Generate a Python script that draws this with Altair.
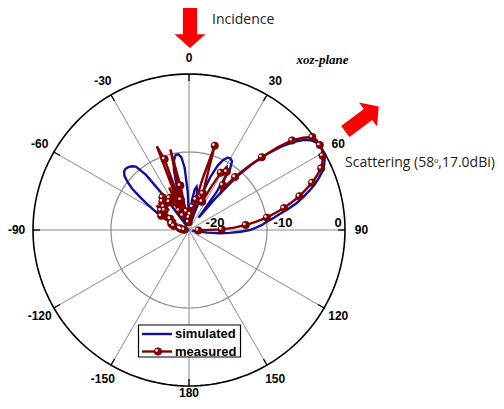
import altair as alt
import pandas as pd
import numpy as np

# ---------------- data (gain in dB, normalised; angle in degrees, clockwise from +z) -------------
MEAS_ANGLE = list(range(-89, 96, 2))
MEAS_DB = [
    -19.6, -19.4, -19.2, -19.0, -19.2, -18.8, -18.4, -18.0, -18.4, -17.6,
    -17.0, -17.6, -16.6, -16.0, -16.0, -17.2, -18.0, -15.6, -14.8, -16.0,
    -15.2, -15.6, -16.0, -15.0, -16.0, -14.6, -14.2, -15.6, -16.4, -15.2,
    -16.0, -17.2, -14.0, -18.0, -8.5, -10.4, -17.6, -16.0, -9.4, -14.2,
    -18.0, -17.6, -18.4, -19.0, -18.8,
    -18.4, -18.8, -18.0, -17.6, -17.0, -18.0, -16.0, -13.0, -8.7, -13.4,
    -15.0, -16.5, -16.0, -14.0, -11.6, -10.6, -11.1, -12.1, -12.8, -13.4,
    -11.0, -8.8, -6.8, -4.4, -2.5, -1.2, -0.2, 0.0, 0.0, -0.1,
    -0.4, -0.8, -1.3, -2.2, -3.1, -4.2, -5.2, -6.4, -7.5, -8.8,
    -9.9, -11.4, -12.7, -14.2, -15.8, -18.4, -18.8, -19.2,
]
SIM_ANGLE = list(range(-90, 103, 2))
SIM_DB = [
    -20.0, -19.8, -19.4, -19.2, -19.4, -19.8, -19.6, -19.2, -18.8, -18.8,
    -18.4, -17.6, -16.8, -16.0, -15.4, -14.6, -13.6, -12.4, -11.0, -10.0,
    -9.2, -8.8, -8.7, -8.8, -9.0, -9.4, -11.0, -15.0, -18.4, -19.4,
    -19.0, -18.4, -18.2, -18.6, -19.2, -18.8, -17.0, -14.4, -12.0, -10.8,
    -10.2, -10.2, -10.6, -12.0, -15.0, -18.4, -19.0, -17.6, -16.0, -14.8,
    -14.4, -15.0, -17.0, -18.8, -17.6, -15.0, -12.6, -11.0, -10.0, -9.5,
    -9.4, -9.6, -10.6, -14.0, -18.0, -14.4, -10.6, -8.0, -5.8, -4.0,
    -2.4, -1.2, -0.5, -0.1, 0.0, -0.1, -0.3, -0.7, -1.2, -2.0,
    -2.8, -3.8, -4.8, -5.8, -7.0, -8.2, -9.1, -10.0, -10.6, -11.4,
    -12.2, -13.4, -14.8, -16.0, -17.6, -18.8, -19.6,
]
DB_MIN, DB_MAX = -20.0, 0.0
RING_DB = [-10.0, 0.0]
RADIAL_TICKS = [-20, -10, 0]
ANGLE_TICKS = [0, 30, 60, 90, 120, 150, 180, -150, -120, -90, -60, -30]
SERIES = ["simulated", "measured"]

BLUE = "#10109c"
RED = "#850000"
GRAY = "#8a8a8a"

# ---------------- layout: chart 488x393, centre and radius in px --------------
W, H = 488, 393
CX, CY, R = 181.0, 222.0, 156.0
XDOM = [-CX / R, (W - CX) / R]
YDOM = [-(H - CY) / R, CY / R]
xs = alt.Scale(domain=XDOM, nice=False, zero=False)
ys = alt.Scale(domain=YDOM, nice=False, zero=False)
X = alt.X("px:Q", scale=xs, axis=None)
Y = alt.Y("py:Q", scale=ys, axis=None)

RNORM = f"max(0, (datum.db - ({DB_MIN})) / ({DB_MAX - DB_MIN}))"


def polar(ch, r=RNORM):
    return ch.transform_calculate(
        rr=r
    ).transform_calculate(
        px="datum.rr * sin(datum.angle * PI / 180)",
        py="datum.rr * cos(datum.angle * PI / 180)",
    )


# spokes
spokes_df = pd.DataFrame({"angle": list(range(0, 360, 30))})
spokes = alt.Chart(spokes_df).transform_calculate(
    px="0", py="0",
    px2="sin(datum.angle * PI / 180)",
    py2="cos(datum.angle * PI / 180)",
).mark_rule(color=GRAY, strokeWidth=1).encode(
    x=X, y=Y, x2="px2:Q", y2="py2:Q"
)
ticks = alt.Chart(spokes_df).transform_calculate(
    px="0.955 * sin(datum.angle * PI / 180)", py="0.955 * cos(datum.angle * PI / 180)",
    px2="sin(datum.angle * PI / 180)",
    py2="cos(datum.angle * PI / 180)",
).mark_rule(color="black", strokeWidth=1.3).encode(
    x=X, y=Y, x2="px2:Q", y2="py2:Q"
)

ring_ang = np.arange(0, 361, 2)
ring_df = pd.DataFrame({
    "angle": np.concatenate([ring_ang, ring_ang]),
    "db": [RING_DB[0]] * len(ring_ang) + [RING_DB[1]] * len(ring_ang),
    "ring": ["inner"] * len(ring_ang) + ["outer"] * len(ring_ang),
})
inner_ring = polar(alt.Chart(ring_df).transform_filter("datum.ring == 'inner'")).mark_line(
    color=GRAY, strokeWidth=1.2
).encode(x=X, y=Y, order="angle:Q")
outer_ring = polar(alt.Chart(ring_df).transform_filter("datum.ring == 'outer'")).mark_line(
    color="black", strokeWidth=1.6
).encode(x=X, y=Y, order="angle:Q")

sim_df = pd.DataFrame({"angle": SIM_ANGLE, "db": SIM_DB})
meas_df = pd.DataFrame({"angle": MEAS_ANGLE, "db": MEAS_DB, "idx": range(len(MEAS_ANGLE))})

sim_line = polar(alt.Chart(sim_df)).mark_line(color=BLUE, strokeWidth=2.4).encode(
    x=X, y=Y, order="angle:Q")
meas_line = polar(alt.Chart(meas_df)).mark_line(color=RED, strokeWidth=2.4).encode(
    x=X, y=Y, order="angle:Q")

MSIZE = 56
HILITE = "M -0.72 -0.3 A 0.34 0.34 0 1 0 -0.04 -0.3 A 0.34 0.34 0 1 0 -0.72 -0.3 Z"
meas_pts = polar(alt.Chart(meas_df).transform_filter("datum.idx % 2 == 1")).mark_point(
    filled=True, shape="circle", size=MSIZE, color=RED, opacity=1, stroke="#5a0000", strokeWidth=0.6
).encode(x=X, y=Y)
meas_hl = polar(alt.Chart(meas_df).transform_filter("datum.idx % 2 == 1")).mark_point(
    filled=True, shape=HILITE, size=MSIZE, color="white", opacity=0.95
).encode(x=X, y=Y)

# angle labels
lab_df = pd.DataFrame({"angle": ANGLE_TICKS, "label": [str(a) for a in ANGLE_TICKS]})
lab_r = "datum.angle == 180 ? 1.042 : 1.105"
angle_labels = polar(alt.Chart(lab_df), lab_r).mark_text(
    font="Liberation Sans", fontWeight="bold", fontSize=12, color="black",
    align="center", baseline="middle"
).encode(x=X, y=Y, text="label:N")

# radial (dB) labels along the 90 degree spoke
rad_df = pd.DataFrame({"db": RADIAL_TICKS, "label": [str(v) for v in RADIAL_TICKS],
                       "nudge": [26.0, 16.0, -7.0]})
radial_labels = alt.Chart(rad_df).transform_calculate(
    px=f"max(0, (datum.db - ({DB_MIN})) / ({DB_MAX - DB_MIN})) + datum.nudge / {R}",
    py=f"{6.7 / R}",
).mark_text(
    font="Liberation Sans", fontWeight="bold", fontSize=13, color="black",
    align="center", baseline="middle"
).encode(x=X, y=Y, text="label:N")

# legend (drawn by hand, box with white fill)
leg_box = alt.Chart(pd.DataFrame({"a": [0]})).mark_rect(
    fill="white", stroke="black", strokeWidth=1.2
).encode(x=alt.value(130.5), x2=alt.value(232.5), y=alt.value(317), y2=alt.value(349))
leg_sim = alt.Chart(pd.DataFrame({"a": [0]})).mark_rule(color=BLUE, strokeWidth=2.4).encode(
    x=alt.value(134), x2=alt.value(164), y=alt.value(326))
leg_meas = alt.Chart(pd.DataFrame({"a": [0]})).mark_rule(color=RED, strokeWidth=2.4).encode(
    x=alt.value(134), x2=alt.value(164), y=alt.value(343.5))
leg_pt = alt.Chart(pd.DataFrame({"a": [0]})).mark_point(
    filled=True, shape="circle", size=MSIZE, color=RED, opacity=1, stroke="#5a0000", strokeWidth=0.6
).encode(x=alt.value(150), y=alt.value(343.5))
leg_hl = alt.Chart(pd.DataFrame({"a": [0]})).mark_point(
    filled=True, shape=HILITE, size=MSIZE, color="white", opacity=0.95
).encode(x=alt.value(150), y=alt.value(343.5))
leg_text = alt.Chart(pd.DataFrame({"t": SERIES, "yy": [326, 343.5]})).mark_text(
    font="Liberation Sans", fontWeight="bold", fontSize=13, color="black",
    align="left", baseline="middle"
).encode(x=alt.value(167), y=alt.Y("yy:Q", scale=None), text="t:N")

# annotations
ARROW = "M 0 -1 L 0.72 -0.36 L 0.33 -0.36 L 0.33 1 L -0.33 1 L -0.33 -0.36 L -0.72 -0.36 Z"
arrow1 = alt.Chart(pd.DataFrame({"a": [0]})).mark_point(
    filled=True, shape=ARROW, size=1850, angle=180, color="#ff0000", opacity=1
).encode(x=alt.value(182), y=alt.value(18.5))
arrow2 = alt.Chart(pd.DataFrame({"a": [0]})).mark_point(
    filled=True, shape=ARROW, size=1750, angle=53, color="#ff0000", opacity=1
).encode(x=alt.value(354), y=alt.value(111))
ann_df = pd.DataFrame({
    "t": ["Incidence", "Scattering (58ᵒ,17.0dBi)"],
    "xx": [204, 337], "yy": [12, 155],
})
ann_text = alt.Chart(ann_df).mark_text(
    font="Open Sans", fontSize=14, color="#222222", align="left", baseline="middle"
).encode(x=alt.X("xx:Q", scale=None), y=alt.Y("yy:Q", scale=None), text="t:N")
plane_text = alt.Chart(pd.DataFrame({"t": ["xoz-plane"]})).mark_text(
    font="Liberation Serif", fontWeight="bold", fontStyle="italic", fontSize=13,
    color="black", align="left", baseline="middle"
).encode(x=alt.value(288.5), y=alt.value(52), text="t:N")

chart = alt.layer(
    spokes, inner_ring, ticks, outer_ring, sim_line, meas_line, meas_pts, meas_hl,
    angle_labels, radial_labels,
    leg_box, leg_sim, leg_meas, leg_pt, leg_hl, leg_text,
    arrow1, arrow2, ann_text, plane_text,
).properties(
    width=W, height=H, padding=0, autosize=alt.AutoSizeParams(type="none"),
    background="white",
).configure_view(stroke=None)

chart.save("out.html", embed_options={"renderer": "svg", "actions": False})
